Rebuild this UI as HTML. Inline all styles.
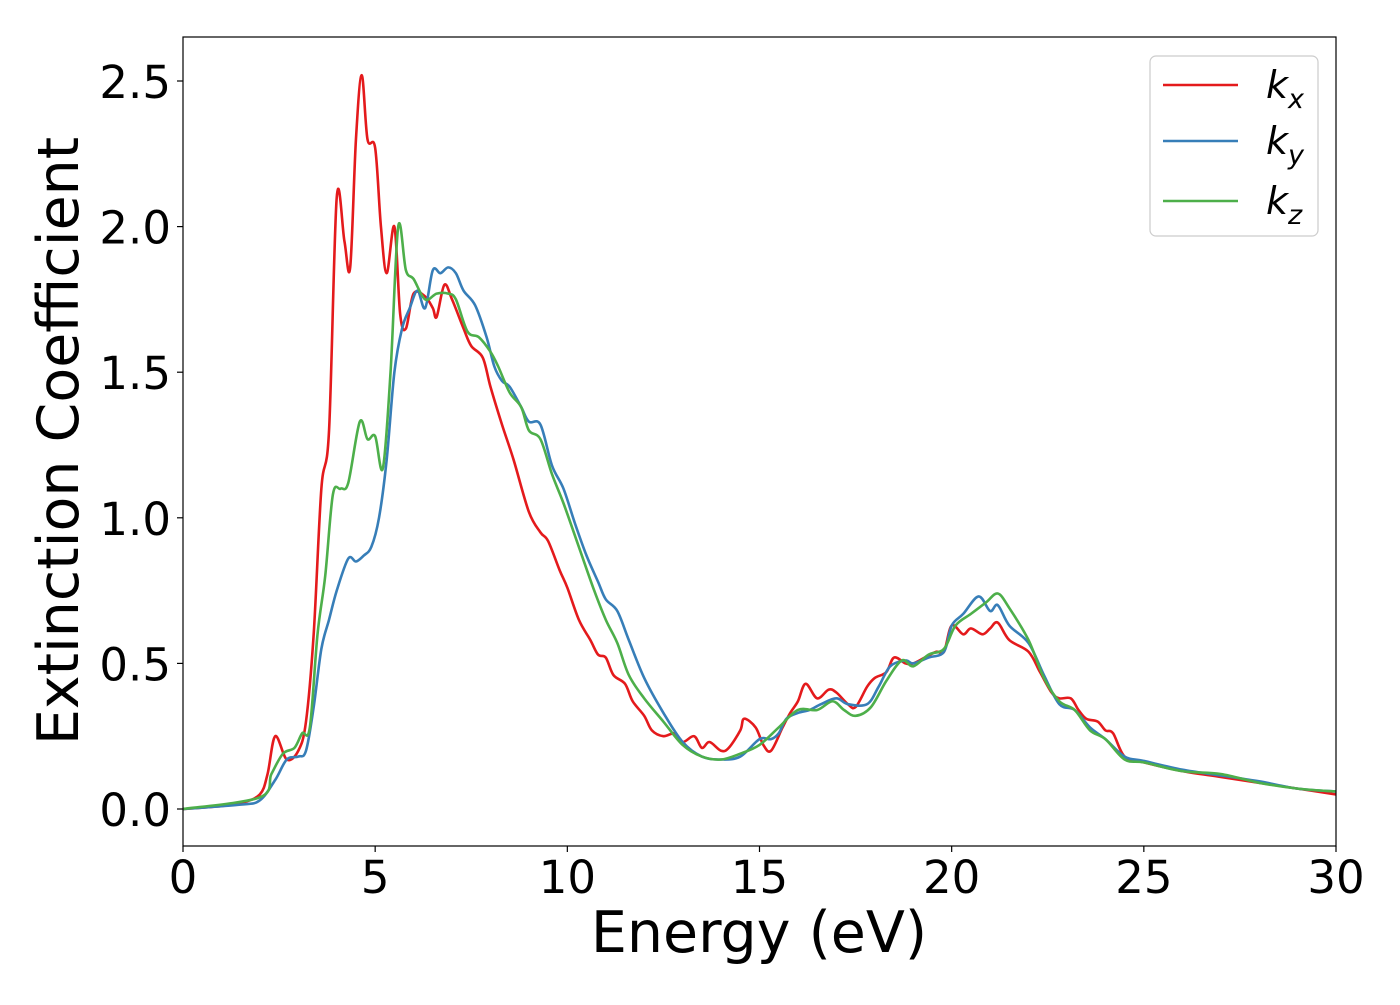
<!DOCTYPE html>
<html><head><meta charset="utf-8"><style>
body{margin:0;background:#fff;width:1400px;height:1000px;overflow:hidden}
svg text{font-family:"DejaVu Sans","Liberation Sans",sans-serif;fill:#000}
</style></head><body>
<svg id="chart" width="1400" height="1000">
<g id="plot"></g>
</svg>
<script>
const xTicks=[0,5,10,15,20,25,30];
const yTicks=[0.0,0.5,1.0,1.5,2.0,2.5];
const yTickLabels=["0.0","0.5","1.0","1.5","2.0","2.5"];
const seriesNames=["kx","ky","kz"];
const kxE=[0,1,1.5,2,2.2,2.4,2.7,3.0,3.2,3.4,3.6,3.8,4.0,4.2,4.35,4.5,4.65,4.8,5.0,5.15,5.3,5.5,5.65,5.8,6.0,6.3,6.5,6.6,6.8,7.0,7.3,7.5,7.8,8.0,8.3,8.6,9.0,9.3,9.5,9.8,10,10.3,10.6,10.8,11.0,11.2,11.5,11.7,12.0,12.2,12.5,12.8,13.0,13.3,13.5,13.7,14.0,14.2,14.5,14.6,14.9,15.1,15.3,15.6,15.8,16.0,16.2,16.5,16.8,17.0,17.3,17.5,17.8,18.0,18.3,18.5,18.8,19.0,19.3,19.6,19.8,20.0,20.3,20.5,20.8,21.0,21.2,21.5,22.0,22.3,22.6,22.8,23.1,23.3,23.5,23.8,24.0,24.2,24.5,25,26,27,28,29,30];
const kxV=[0,0.01,0.02,0.05,0.12,0.25,0.17,0.2,0.3,0.6,1.1,1.3,2.1,1.95,1.86,2.3,2.52,2.3,2.27,2.0,1.84,2.0,1.7,1.65,1.77,1.76,1.72,1.69,1.8,1.75,1.65,1.59,1.55,1.45,1.32,1.2,1.02,0.95,0.92,0.82,0.76,0.65,0.58,0.53,0.52,0.46,0.43,0.37,0.32,0.27,0.25,0.26,0.23,0.25,0.21,0.23,0.2,0.21,0.27,0.31,0.28,0.22,0.2,0.28,0.33,0.37,0.43,0.38,0.41,0.4,0.36,0.35,0.42,0.45,0.47,0.52,0.5,0.5,0.52,0.54,0.54,0.63,0.6,0.62,0.6,0.62,0.64,0.58,0.54,0.47,0.4,0.38,0.38,0.34,0.31,0.3,0.27,0.26,0.18,0.16,0.13,0.11,0.09,0.07,0.05];
const kyE=[0,1.5,2.0,2.4,2.7,3.0,3.2,3.4,3.6,3.8,4.0,4.3,4.5,4.7,4.9,5.1,5.3,5.5,5.7,5.9,6.1,6.3,6.5,6.7,6.9,7.1,7.3,7.6,7.9,8.1,8.3,8.5,8.8,9.0,9.3,9.6,9.9,10.2,10.5,10.8,11.0,11.3,11.6,12.0,12.5,13.0,13.5,14.0,14.5,15.0,15.3,15.5,15.7,16,16.3,16.6,17,17.3,17.8,18.1,18.4,18.8,19.0,19.4,19.8,20.0,20.3,20.7,21.0,21.2,21.5,22.0,22.4,22.8,23.2,23.6,24.0,24.5,25,26,27,28,29,30];
const kyV=[0,0.015,0.03,0.1,0.17,0.18,0.2,0.35,0.55,0.65,0.75,0.86,0.85,0.87,0.9,1.0,1.2,1.5,1.65,1.72,1.78,1.72,1.85,1.84,1.86,1.84,1.78,1.73,1.62,1.52,1.47,1.45,1.38,1.33,1.32,1.18,1.1,0.98,0.87,0.78,0.72,0.68,0.58,0.45,0.33,0.23,0.18,0.17,0.18,0.24,0.24,0.26,0.31,0.33,0.34,0.36,0.38,0.36,0.36,0.42,0.49,0.51,0.5,0.52,0.54,0.63,0.67,0.73,0.68,0.7,0.63,0.57,0.46,0.36,0.34,0.28,0.24,0.18,0.165,0.135,0.115,0.095,0.07,0.06];
const kzE=[0,2.0,2.3,2.6,2.9,3.1,3.3,3.5,3.7,3.9,4.1,4.3,4.6,4.8,5.0,5.2,5.4,5.6,5.8,6.0,6.3,6.6,6.9,7.1,7.4,7.7,8.0,8.2,8.5,8.8,9.0,9.3,9.6,9.9,10.3,10.7,11.0,11.3,11.6,12.0,12.5,13.0,13.5,14.0,14.5,15,15.5,16,16.5,16.9,17.2,17.5,17.9,18.3,18.7,19.0,19.4,19.8,20.1,20.5,20.9,21.2,21.5,22.0,22.4,22.8,23.2,23.6,24,24.5,25,26,27,28,29,30];
const kzV=[0,0.04,0.12,0.19,0.21,0.26,0.28,0.6,0.8,1.08,1.1,1.12,1.33,1.27,1.28,1.17,1.5,2.0,1.85,1.82,1.75,1.77,1.77,1.75,1.64,1.62,1.57,1.52,1.43,1.38,1.3,1.27,1.15,1.05,0.9,0.75,0.65,0.57,0.46,0.38,0.3,0.22,0.18,0.17,0.19,0.22,0.28,0.34,0.34,0.37,0.34,0.32,0.35,0.44,0.51,0.49,0.53,0.55,0.63,0.67,0.71,0.74,0.69,0.58,0.45,0.37,0.34,0.27,0.24,0.17,0.16,0.13,0.12,0.09,0.07,0.06];

const X0=183,X1=1336,Y0=846,Y1=37;
const xS=v=>X0+(v-0)/30*(X1-X0);
const yS=v=>809-v*291.2;
const NS="http://www.w3.org/2000/svg";
const svg=document.getElementById('chart');
function mk(t,a,p){const e=document.createElementNS(NS,t);for(const k in a)e.setAttribute(k,a[k]);(p||svg).appendChild(e);return e;}
function smooth(E,V){const P=E.map((e,i)=>[xS(e),yS(V[i])]);let d=`M${P[0][0]},${P[0][1]}`;for(let i=0;i<P.length-1;i++){const p0=P[Math.max(0,i-1)],p1=P[i],p2=P[i+1],p3=P[Math.min(P.length-1,i+2)];const c1=[p1[0]+(p2[0]-p0[0])/6,p1[1]+(p2[1]-p0[1])/6],c2=[p2[0]-(p3[0]-p1[0])/6,p2[1]-(p3[1]-p1[1])/6];d+=`C${c1[0]},${c1[1]} ${c2[0]},${c2[1]} ${p2[0]},${p2[1]}`;}return d;}
const plot=document.getElementById('plot');
const cols=["#e41a1c","#377eb8","#4daf4a"];
const data=[[kxE,kxV],[kyE,kyV],[kzE,kzV]];
mk('clipPath',{id:'cp'}).appendChild(document.createElementNS(NS,'rect'));
const cr=svg.querySelector('#cp rect');cr.setAttribute('x',X0);cr.setAttribute('y',Y1);cr.setAttribute('width',X1-X0);cr.setAttribute('height',Y0-Y1);
data.forEach((d,i)=>{const p=mk('path',{d:smooth(d[0],d[1]),fill:'none',stroke:cols[i],'stroke-width':2.6,'clip-path':'url(#cp)'},plot);

});
const fr=mk('rect',{x:X0,y:Y1,width:X1-X0,height:Y0-Y1,fill:'none',stroke:'#000','stroke-width':1.2});


xTicks.forEach(t=>{const x=xS(t);mk('line',{x1:x,x2:x,y1:Y0,y2:Y0+6,stroke:'#000','stroke-width':1.2});
const tx=mk('text',{x:x,y:893,'font-size':45,'text-anchor':'middle'});tx.textContent=t;

});
yTicks.forEach((t,i)=>{const y=yS(t);mk('line',{x1:X0-6,x2:X0,y1:y,y2:y,stroke:'#000','stroke-width':1.2});
const tx=mk('text',{x:171,y:y+17,'font-size':45,'text-anchor':'end'});tx.textContent=yTickLabels[i];

});
const xt=mk('text',{x:759,y:952,'font-size':57,'text-anchor':'middle'});xt.textContent='Energy (eV)';


const yt=mk('text',{x:0,y:0,'font-size':57,'text-anchor':'middle',transform:'translate(78,441) rotate(-90)'});yt.textContent='Extinction Coefficient';


const lg=mk('g',{});


mk('rect',{x:1150,y:56,width:168,height:180,rx:6,fill:'#fff',stroke:'#ccc','stroke-width':1.2},lg);
const subs=['x','y','z'];const ly=[85,141,201];
subs.forEach((s,i)=>{const l=mk('line',{x1:1163,x2:1238,y1:ly[i],y2:ly[i],stroke:cols[i],'stroke-width':2.6},lg);
const t=mk('text',{x:1266,y:ly[i]+13,'font-size':38,'font-style':'italic'},lg);


t.innerHTML='k<tspan font-size="27" dy="10">'+s+'</tspan>';});
</script>
</body></html>
